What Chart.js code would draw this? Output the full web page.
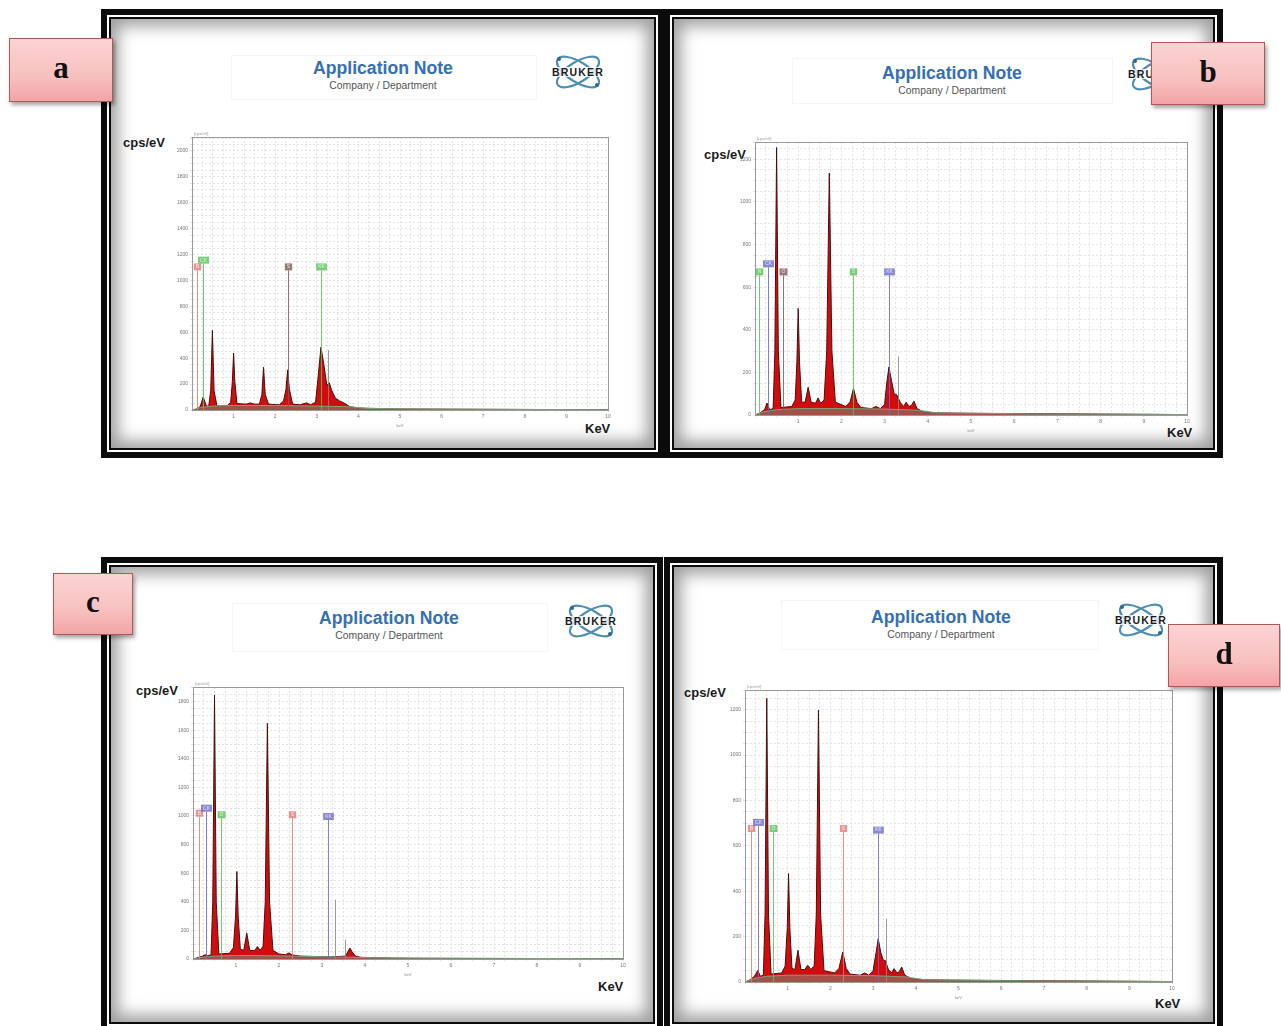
<!DOCTYPE html>
<html>
<head>
<meta charset="utf-8">
<script src="https://cdn.jsdelivr.net/npm/chart.js@4.4.1/dist/chart.umd.min.js"></script>
<style>
  body { margin:0; width:1281px; height:1026px; overflow:hidden; background:#fff; position:relative;
         font-family:'Liberation Sans', Arial, sans-serif; }
  .frame { position:absolute; box-sizing:border-box; border:6px solid #0b0b0b; background:#fff; }
  .frame .in { position:absolute; left:2px; top:2px; right:2px; bottom:2px; border:2px solid #0b0b0b;
               background:#fff; box-shadow: inset 0 0 16px 7px rgba(0,0,0,0.38); }
  .hbox { position:absolute; border:1px solid #f5f5f5; }
  .title { position:absolute; width:300px; margin-left:-150px; text-align:center; color:#3470b6;
           font:bold 17.6px 'Liberation Sans', Arial, sans-serif; line-height:18px; }
  .sub { position:absolute; width:300px; margin-left:-150px; text-align:center; color:#555;
         font:10.4px 'Liberation Sans', Arial, sans-serif; line-height:11px; }
  .ax { position:absolute; color:#1a1a1a; font:bold 13px 'Liberation Sans Narrow', 'Liberation Sans', Arial, sans-serif; }
  .tag { position:absolute; box-sizing:border-box; border:1px solid #a85a5a;
         background:linear-gradient(#fbd3d3, #f8c0c0 60%, #f3a4a4);
         box-shadow: 2px 3px 4px rgba(0,0,0,0.35);
         font:bold 31px 'Liberation Serif', 'Times New Roman', serif; color:#111;
         display:flex; align-items:center; justify-content:center; padding-bottom:4px; }
  .logo { position:absolute; }
  canvas { position:absolute; }
</style>
</head>
<body>

<div class="frame" style="left:101px;top:9px;width:563px;height:449px"><div class="in"></div></div>
<div class="frame" style="left:664px;top:9px;width:559px;height:449px"><div class="in"></div></div>
<div class="frame" style="left:101px;top:557px;width:562px;height:475px"><div class="in"></div></div>
<div class="frame" style="left:664px;top:557px;width:559px;height:475px"><div class="in"></div></div>

<div class="hbox" style="left:231px;top:55px;width:304px;height:43px"></div>
<div class="hbox" style="left:792px;top:58px;width:319px;height:44px"></div>
<div class="hbox" style="left:232px;top:603px;width:314px;height:47px"></div>
<div class="hbox" style="left:781px;top:600px;width:316px;height:48px"></div>

<div class="title" style="left:383px;top:59px">Application Note</div>
<div class="sub" style="left:383px;top:80px">Company / Department</div>
<div class="title" style="left:952px;top:64px">Application Note</div>
<div class="sub" style="left:952px;top:85px">Company / Department</div>
<div class="title" style="left:389px;top:609px">Application Note</div>
<div class="sub" style="left:389px;top:630px">Company / Department</div>
<div class="title" style="left:941px;top:608px">Application Note</div>
<div class="sub" style="left:941px;top:629px">Company / Department</div>

<div id="logos"></div>

<div class="ax" style="left:123px;top:135px">cps/eV</div>
<div class="ax" style="left:704px;top:147px">cps/eV</div>
<div class="ax" style="left:136px;top:683px">cps/eV</div>
<div class="ax" style="left:684px;top:685px">cps/eV</div>
<div class="ax" style="left:585px;top:421px">KeV</div>
<div class="ax" style="left:1167px;top:425px">KeV</div>
<div class="ax" style="left:598px;top:979px">KeV</div>
<div class="ax" style="left:1155px;top:996px">KeV</div>

<canvas id="ca"></canvas>
<canvas id="cb"></canvas>
<canvas id="cc"></canvas>
<canvas id="cd"></canvas>

<div class="tag" style="left:9px;top:38px;width:104px;height:64px">a</div>
<div class="tag" style="left:1151px;top:42px;width:114px;height:63px">b</div>
<div class="tag" style="left:53px;top:573px;width:80px;height:62px">c</div>
<div class="tag" style="left:1168px;top:624px;width:112px;height:63px">d</div>

<script>
// ---- spectrum data (keV, cps/eV) ----
const aKeV = [0, 0.12, 0.2, 0.27, 0.34, 0.4, 0.45, 0.49, 0.53, 0.6, 0.85, 0.93, 0.97, 1.0, 1.03, 1.08, 1.3, 1.4, 1.5, 1.62, 1.68, 1.72, 1.76, 1.84, 2.1, 2.2, 2.26, 2.3, 2.34, 2.42, 2.6, 2.75, 2.85, 2.97, 3.03, 3.1, 3.17, 3.24, 3.3, 3.36, 3.45, 3.55, 3.65, 3.8, 4.0, 5, 10];
const aCps = [0, 5, 30, 100, 35, 25, 150, 615, 150, 30, 35, 60, 220, 440, 220, 50, 45, 55, 45, 45, 120, 330, 120, 45, 40, 70, 160, 310, 160, 45, 40, 55, 40, 60, 250, 485, 350, 190, 210, 150, 90, 70, 55, 25, 15, 8, 2];

const bKeV = [0, 0.12, 0.22, 0.28, 0.34, 0.42, 0.46, 0.5, 0.54, 0.6, 0.85, 0.93, 0.97, 1.0, 1.03, 1.08, 1.16, 1.23, 1.3, 1.4, 1.46, 1.52, 1.6, 1.66, 1.72, 1.78, 1.86, 2.1, 2.2, 2.28, 2.36, 2.45, 2.7, 2.8, 2.9, 3.0, 3.05, 3.1, 3.16, 3.22, 3.28, 3.36, 3.44, 3.5, 3.56, 3.62, 3.68, 3.75, 3.9, 4.2, 5, 10];
const bCps = [0, 10, 25, 56, 25, 30, 300, 1255, 300, 35, 40, 70, 250, 500, 250, 60, 60, 130, 60, 55, 80, 55, 70, 300, 1135, 300, 60, 40, 60, 125, 60, 35, 30, 40, 30, 50, 150, 225, 160, 100, 95, 60, 40, 60, 40, 45, 65, 30, 15, 10, 8, 2];

const cKeV = [0, 0.12, 0.22, 0.28, 0.34, 0.42, 0.46, 0.5, 0.54, 0.6, 0.85, 0.94, 0.99, 1.02, 1.05, 1.1, 1.18, 1.25, 1.32, 1.44, 1.5, 1.56, 1.63, 1.68, 1.73, 1.78, 1.86, 2.0, 2.15, 2.23, 2.31, 2.5, 2.8, 3.2, 3.55, 3.6, 3.65, 3.7, 3.78, 3.9, 4.2, 5, 10];
const cCps = [0, 10, 20, 30, 22, 30, 400, 1845, 400, 35, 40, 80, 300, 612, 300, 70, 60, 181, 60, 60, 88, 60, 90, 400, 1647, 400, 60, 35, 30, 42, 28, 20, 18, 15, 20, 50, 77, 50, 20, 12, 8, 5, 2];

const dKeV = [0, 0.12, 0.22, 0.3, 0.36, 0.43, 0.47, 0.51, 0.55, 0.61, 0.86, 0.94, 0.99, 1.02, 1.05, 1.1, 1.17, 1.24, 1.31, 1.4, 1.47, 1.54, 1.62, 1.67, 1.72, 1.77, 1.85, 2.1, 2.2, 2.29, 2.37, 2.46, 2.7, 2.8, 2.9, 3.0, 3.07, 3.12, 3.18, 3.24, 3.28, 3.36, 3.43, 3.49, 3.56, 3.61, 3.67, 3.74, 3.9, 4.2, 5, 10];
const dCps = [0, 10, 25, 51, 25, 30, 300, 1250, 300, 35, 40, 70, 240, 478, 240, 60, 55, 140, 55, 55, 74, 55, 70, 300, 1198, 300, 50, 40, 60, 132, 60, 35, 30, 40, 30, 50, 130, 191, 130, 95, 96, 55, 40, 59, 40, 45, 66, 30, 15, 10, 8, 2];

// background (bremsstrahlung) trace
const bgKeV = [0, 0.2, 0.5, 1, 2, 3, 3.8, 4.2, 6, 10];
const aBg = [0, 20, 30, 35, 35, 30, 25, 12, 6, 2];
const bBg = [0, 15, 25, 30, 30, 28, 22, 10, 6, 2];
const cBg = [0, 12, 20, 25, 22, 16, 12, 8, 5, 2];
const dBg = [0, 15, 25, 30, 30, 28, 22, 10, 6, 2];

// element marker lines
const aLineKeV = [0.12, 0.27, 2.3, 3.1, 3.28];
const aLineTop = [1078, 1130, 1078, 1078, 462];
const aLineTag = ['B', 'CK', 'S', 'KK', ''];
const bLineKeV = [0.1, 0.3, 0.65, 2.28, 3.1, 3.3];
const bLineTop = [655, 693, 655, 655, 655, 275];
const bLineTag = ['N', 'CK', 'O', 'S', 'KK', ''];
const cLineKeV = [0.13, 0.31, 0.65, 2.3, 3.14, 3.3, 3.53];
const cLineTop = [995, 1030, 984, 984, 972, 414, 135];
const cLineTag = ['B', 'CK', 'O', 'S', 'KK', '', ''];
const dLineKeV = [0.13, 0.3, 0.65, 2.29, 3.12, 3.3];
const dLineTop = [661, 688, 661, 661, 654, 279];
const dLineTag = ['B', 'CK', 'O', 'S', 'KK', ''];

// axes
const xTickLabels = [1, 2, 3, 4, 5, 6, 7, 8, 9, 10];
const aYTicks = [0, 200, 400, 600, 800, 1000, 1200, 1400, 1600, 1800, 2000];
const bYTicks = [0, 200, 400, 600, 800, 1000, 1200];
const cYTicks = [0, 200, 400, 600, 800, 1000, 1200, 1400, 1600, 1800];
const dYTicks = [0, 200, 400, 600, 800, 1000, 1200];
const yTopValue = [2108, 1281, 1902, 1287];

// ---- styles / layout ----
const GREEN = '#58c058', BLUE = '#6a6ac8', PINK = '#e07a7a', GRAY = '#8a8a8a', DARK = '#7a5a5a';
const aLineColor = [PINK, GREEN, DARK, GREEN, GRAY];
const bLineColor = [GREEN, BLUE, DARK, GREEN, BLUE, GRAY];
const cLineColor = [PINK, BLUE, GREEN, PINK, BLUE, GRAY, GRAY];
const dLineColor = [PINK, BLUE, GREEN, PINK, BLUE, GRAY];

const plotBoxes = [
  { left: 192, top: 137, right: 608, bottom: 410 },
  { left: 755, top: 142, right: 1187, bottom: 415 },
  { left: 193, top: 687, right: 623, bottom: 959 },
  { left: 745, top: 690, right: 1172, bottom: 982 }
];
const Y_W = 22, X_H = 18, PAD_T = 6, PAD_R = 8;
const MINOR_Y = 50;   // dotted grid spacing in cps/eV

function pts(xs, ys) { return xs.map((x, i) => ({ x: x, y: ys[i] })); }

const markerPlugin = {
  id: 'markers',
  afterDatasetsDraw(chart) {
    const m = chart.options.plugins.markers;
    const xs = chart.scales.x, ys = chart.scales.y, ctx = chart.ctx;
    const y0 = ys.getPixelForValue(0);
    ctx.save();
    m.keV.forEach((k, i) => {
      const px = Math.round(xs.getPixelForValue(k)) + 0.5;
      const pt = ys.getPixelForValue(m.top[i]);
      ctx.strokeStyle = m.color[i];
      ctx.globalAlpha = 0.85;
      ctx.lineWidth = 1;
      ctx.beginPath(); ctx.moveTo(px, y0); ctx.lineTo(px, pt); ctx.stroke();
      if (m.tag[i]) {
        ctx.globalAlpha = 0.8;
        ctx.font = '5px "Liberation Sans", Arial';
        const w = Math.max(6, ctx.measureText(m.tag[i]).width + 4);
        ctx.fillStyle = m.color[i];
        ctx.fillRect(px - w / 2, pt - 7, w, 7);
        ctx.fillStyle = '#fff';
        ctx.textAlign = 'center'; ctx.textBaseline = 'middle';
        ctx.fillText(m.tag[i], px, pt - 3.5);
      }
    });
    ctx.restore();
  },
  afterDraw(chart) {
    const a = chart.chartArea, ctx = chart.ctx;
    ctx.save();
    ctx.strokeStyle = '#9a9a9a';
    ctx.lineWidth = 1;
    ctx.strokeRect(Math.round(a.left) + 0.5, Math.round(a.top) + 0.5, Math.round(a.right - a.left), Math.round(a.bottom - a.top));
    ctx.font = '4px "Liberation Sans", Arial';
    ctx.fillStyle = '#999';
    ctx.textBaseline = 'bottom';
    ctx.fillText('[cps/eV]', a.left + 2, a.top - 1);
    ctx.restore();
  }
};

function makePanel(id, box, keV, cps, bg, lineKeV, lineTop, lineTag, lineColor, yTicks, yTop) {
  const cv = document.getElementById(id);
  const w = Y_W + (box.right - box.left) + PAD_R;
  const h = PAD_T + (box.bottom - box.top) + X_H;
  cv.width = w; cv.height = h;
  cv.style.left = (box.left - Y_W) + 'px';
  cv.style.top = (box.top - PAD_T) + 'px';
  cv.style.width = w + 'px'; cv.style.height = h + 'px';

  new Chart(cv.getContext('2d'), {
    type: 'line',
    data: {
      datasets: [
        { data: pts(bgKeV, bg), fill: 'origin', backgroundColor: 'rgba(120,140,120,0.55)',
          borderColor: '#7fa07f', borderWidth: 1, pointRadius: 0, tension: 0, order: 0 },
        { data: pts(keV, cps), fill: 'origin', backgroundColor: '#d20c0c',
          borderColor: '#4e0c0c', borderWidth: 1, pointRadius: 0, tension: 0, order: 1 }
      ]
    },
    options: {
      responsive: false,
      animation: false,
      devicePixelRatio: 1,
      layout: { padding: { top: PAD_T, right: PAD_R, left: 0, bottom: 0 } },
      plugins: {
        legend: { display: false },
        tooltip: { enabled: false },
        markers: { keV: lineKeV, top: lineTop, tag: lineTag, color: lineColor }
      },
      scales: {
        x: {
          type: 'linear', min: 0, max: 10,
          ticks: { stepSize: 0.25, autoSkip: false, maxRotation: 0, padding: 2,
                   font: { size: 5 }, color: '#777',
                   callback: v => xTickLabels.includes(v) ? String(v) : '' },
          grid: { color: '#e3e3e3', tickLength: 2 },
          border: { color: '#8a8a8a', dash: [2, 2] },
          title: { display: true, text: 'keV', font: { size: 4 }, color: '#888', padding: 0 },
          afterFit: s => { s.height = X_H; }
        },
        y: {
          min: 0, max: yTop,
          afterBuildTicks: s => {
            const t = [];
            for (let v = 0; v < yTop; v += MINOR_Y) t.push({ value: v });
            t.push({ value: yTop });
            s.ticks = t;
          },
          ticks: { autoSkip: false, padding: 2, font: { size: 5 }, color: '#777',
                   callback: v => yTicks.includes(v) ? String(v) : '' },
          grid: { color: '#e3e3e3', tickLength: 2 },
          border: { color: '#8a8a8a', dash: [2, 2] },
          afterFit: s => { s.width = Y_W; }
        }
      }
    },
    plugins: [markerPlugin]
  });
}

makePanel('ca', plotBoxes[0], aKeV, aCps, aBg, aLineKeV, aLineTop, aLineTag, aLineColor, aYTicks, yTopValue[0]);
makePanel('cb', plotBoxes[1], bKeV, bCps, bBg, bLineKeV, bLineTop, bLineTag, bLineColor, bYTicks, yTopValue[1]);
makePanel('cc', plotBoxes[2], cKeV, cCps, cBg, cLineKeV, cLineTop, cLineTag, cLineColor, cYTicks, yTopValue[2]);
makePanel('cd', plotBoxes[3], dKeV, dCps, dBg, dLineKeV, dLineTop, dLineTag, dLineColor, dYTicks, yTopValue[3]);

// Bruker logos (atom + wordmark)
const logoCenters = [[578, 72], [1154, 74], [591, 621], [1141, 620]];
const logoHolder = document.getElementById('logos');
logoCenters.forEach(c => {
  const d = document.createElement('div');
  d.className = 'logo';
  d.style.left = (c[0] - 36) + 'px';
  d.style.top = (c[1] - 22) + 'px';
  d.innerHTML =
    '<svg width="72" height="44" viewBox="0 0 72 44">' +
    '<ellipse cx="36" cy="22" rx="24" ry="10" transform="rotate(32 36 22)" fill="none" stroke="#4f8fb0" stroke-width="2.2"/>' +
    '<ellipse cx="36" cy="22" rx="24" ry="10" transform="rotate(-32 36 22)" fill="none" stroke="#4f8fb0" stroke-width="2.2"/>' +
    '<circle cx="17" cy="9" r="2" fill="#2d6a8e"/><circle cx="55" cy="35" r="2" fill="#2d6a8e"/>' +
    '<rect x="3" y="17" width="66" height="10" fill="rgba(255,255,255,0.75)"/>' +
    '<text x="36" y="26" text-anchor="middle" font-family="Liberation Sans, Arial" font-weight="bold" font-size="10.5" letter-spacing="1.2" fill="#1a1a1a">BRUKER</text>' +
    '</svg>';
  logoHolder.appendChild(d);
});
</script>
</body>
</html>
